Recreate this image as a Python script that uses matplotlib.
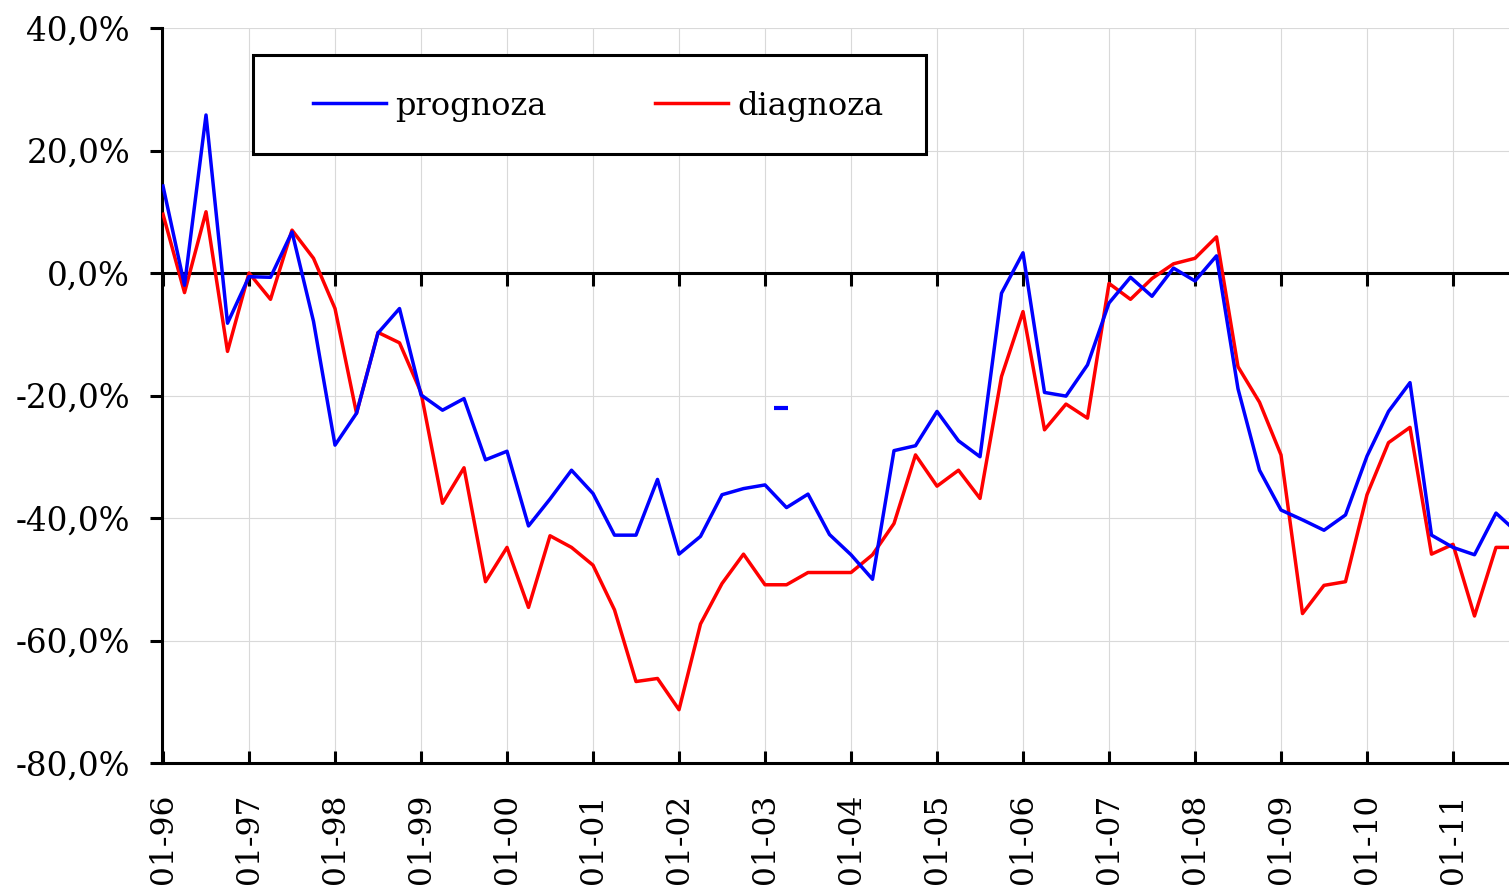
import numpy as np
import matplotlib
matplotlib.use("Agg")
import matplotlib.pyplot as plt
from matplotlib.patches import Rectangle
from matplotlib.ticker import FuncFormatter

# -- Data (quarterly, from 01-96) --
prognoza = [14.2, -2.0, 25.8, -8.2, -0.6, -0.7, 6.7, -7.9,
            -28.1, -22.9, -9.8, -5.8, -19.9, -22.4, -20.5, -30.5,
            -29.1, -41.3, -36.9, -32.2, -36.0, -42.8, -42.8, -33.7,
            -45.9, -43.0, -36.2, -35.2, -34.6, -38.3, -36.1, -42.7,
            -46.0, -50.0, -29.0, -28.2, -22.6, -27.4, -30.0, -3.3,
            3.3, -19.5, -20.1, -15.0, -4.9, -0.7, -3.8, 0.8,
            -1.3, 2.8, -18.9, -32.2, -38.7, -40.3, -42.0, -39.5,
            -29.9, -22.6, -17.9, -42.8, -44.8, -46.0, -39.2, -42.4]
diagnoza = [9.6, -3.2, 10.0, -12.8, 0.0, -4.3, 7.0, 2.4,
            -5.8, -22.9, -9.7, -11.4, -19.5, -37.6, -31.8, -50.4,
            -44.8, -54.6, -42.9, -44.8, -47.7, -55.0, -66.7, -66.2,
            -71.3, -57.3, -50.7, -45.9, -50.9, -50.9, -48.9, -48.9,
            -48.9, -46.0, -40.9, -29.7, -34.8, -32.2, -36.8, -16.9,
            -6.3, -25.6, -21.4, -23.7, -1.7, -4.3, -0.9, 1.5,
            2.4, 5.9, -15.3, -21.1, -29.7, -55.6, -51.0, -50.4,
            -36.2, -27.7, -25.2, -45.9, -44.3, -56.0, -44.8, -44.8]
# stray single-point series (short blue dash)
stray_idx = [28.75]
stray_val = [-22.0]

year_labels = ["01-96", "01-97", "01-98", "01-99", "01-00", "01-01", "01-02",
               "01-03", "01-04", "01-05", "01-06", "01-07", "01-08", "01-09",
               "01-10", "01-11"]
y_ticks = [40, 20, 0, -20, -40, -60, -80]

plt.rcParams['font.family'] = ['DejaVu Serif']
fs = 23.5

W, H = 1509, 893
fig = plt.figure(figsize=(W / 100, H / 100), dpi=100)
ax = fig.add_axes([162 / W, (H - 763) / H, (W - 162) / W, (763 - 28) / H])

x = np.arange(len(prognoza))
ax.plot(x, prognoza, color="#0000ff", lw=2.5, label="prognoza", zorder=4)
ax.plot(x, diagnoza, color="#ff0000", lw=2.5, label="diagnoza", zorder=3)
ax.plot(stray_idx, stray_val, ls="none", marker="_", ms=10, mew=3,
        color="#0000ff", zorder=4)

ax.set_xlim(-0.047, (W - 163) / 21.5)
ax.set_ylim(-80, 40)

# -- axes styling --
ax.set_xticks(np.arange(0, 4 * len(year_labels), 4))
ax.set_xticklabels(year_labels)
ax.set_yticks(y_ticks)
ax.yaxis.set_major_formatter(FuncFormatter(lambda v, p: f"{v:.1f}%".replace(".", ",")))
ax.tick_params(axis="y", direction="out", length=9, width=2.2, labelsize=fs, pad=14)
ax.tick_params(axis="x", bottom=True, length=0, pad=22, labelsize=22.5,
               labelrotation=90)
ax.tick_params(axis="x", top=True, direction="in", length=9, width=2.2,
               labeltop=False)

ax.spines["right"].set_visible(False)
ax.spines["top"].set_position(("data", 0))
for s in ["left", "bottom", "top"]:
    ax.spines[s].set_linewidth(2.2)
    ax.spines[s].set_color("black")

ax.grid(True, color="#d9d9d9", lw=0.8)
ax.set_axisbelow(True)

# -- legend --
def ax_xy(px, py):
    return (px - 162) / (W - 162), (763 - py) / (763 - 28)

x0, y0 = ax_xy(253, 154)
x1, y1 = ax_xy(926, 55)
ax.add_patch(Rectangle((x0, y0), x1 - x0, y1 - y0, transform=ax.transAxes,
                       facecolor="white", edgecolor="black", lw=2.2, zorder=5))
lx, ly = ax_xy(313, 106)
leg = ax.legend(loc="center left", bbox_to_anchor=(lx, ly), ncol=2,
                frameon=False, fontsize=23, borderpad=0, borderaxespad=0,
                handlelength=2.28, handletextpad=0.3, columnspacing=3.4)
leg.set_zorder(6)

fig.savefig("out.png", dpi=100)
